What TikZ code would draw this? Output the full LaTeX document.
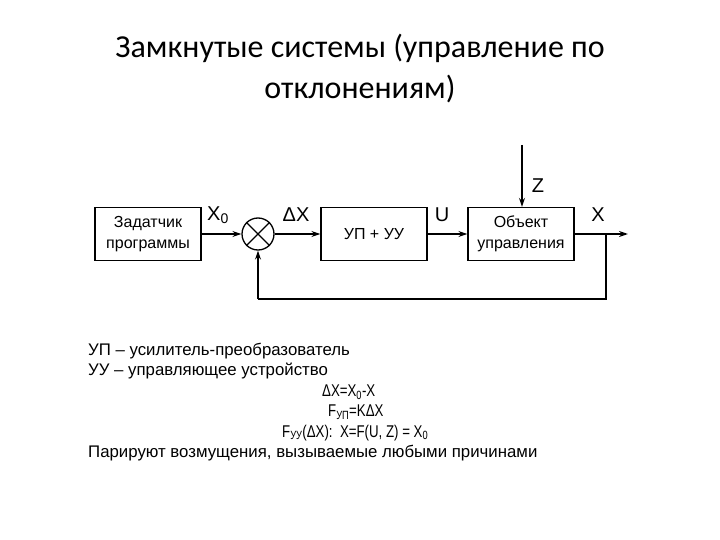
\documentclass[tikz,border=0pt]{standalone}
\usepackage{fontspec}
\setmainfont{Liberation Sans}
\newfontfamily\titlefont{Carlito}
\usetikzlibrary{arrows.meta}
\begin{document}
\begin{tikzpicture}[x=1pt,y=-1pt,
  blk/.style={draw,line width=1.3pt,minimum width=106pt,minimum height=53pt,align=center,font=\fontsize{16}{21}\selectfont,inner sep=0pt},
  sig/.style={line width=1.6pt,-{Stealth[length=9pt,width=6pt]}},
  line/.style={line width=1.6pt},
  lbl/.style={font=\fontsize{20}{22}\selectfont,inner sep=0pt},
  txt/.style={font=\fontsize{16.8}{18}\selectfont,inner sep=0pt,anchor=west},
  frm/.style={font=\fontsize{17}{18}\selectfont,inner sep=0pt,anchor=west,xscale=0.78,transform shape}]
\useasboundingbox (0,0) rectangle (720,540);
\node[font=\titlefont\fontsize{32}{34}\selectfont,inner sep=0pt] (t1) at (360,48) {Замкнутые системы (управление по};
\node[font=\titlefont\fontsize{32}{34}\selectfont,inner sep=0pt] (t2) at (360,89) {отклонениям)};
\node[blk] (zad) at (148,234) {Задатчик\\программы};
\node[draw,circle,line width=1.3pt,minimum size=32pt,inner sep=0pt] (sum) at (258,234) {};
\draw[line width=1.3pt] (sum.north west) -- (sum.south east) (sum.north east) -- (sum.south west);
\node[blk] (up) at (374,234) {УП + УУ};
\node[blk] (obj) at (521,234) {Объект\\управления};
\coordinate (out) at (628,234);
\coordinate (br) at (606,234);
\coordinate (fb) at (606,299);
\coordinate (ztop) at (522,145);
\draw[sig] (zad) -- (sum);
\draw[sig] (sum) -- (up);
\draw[sig] (up) -- (obj);
\draw[sig] (obj) -- (out);
\draw[sig] (ztop) -- (ztop |- obj.north);
\draw[line] (br) -- (fb) -- (fb -| sum);
\draw[sig] (fb -| sum) -- (sum);
\node[lbl] (lx0) at (218,215) {X\textsubscript{0}};
\node[lbl] (ldx) at (296,215) {ΔX};
\node[lbl] (lu) at (442,215) {U};
\node[lbl] (lx) at (598,215) {X};
\node[lbl] (lz) at (538,186) {Z};
\node[txt] (l1) at (88,351) {УП – усилитель-преобразователь};
\node[txt] (l2) at (88,371) {УУ – управляющее устройство};
\node[frm] (l3) at (322,392) {ΔX=X\textsubscript{0}-X};
\node[frm] (l4) at (328,412) {F\textsubscript{УП}=KΔX};
\node[frm] (l5) at (282,433) {F\textsubscript{УУ}(ΔX):\ \ X=F(U, Z) = X\textsubscript{0}};
\node[txt] (l6) at (88,453) {Парируют возмущения, вызываемые любыми причинами};
\end{tikzpicture}
\end{document}
